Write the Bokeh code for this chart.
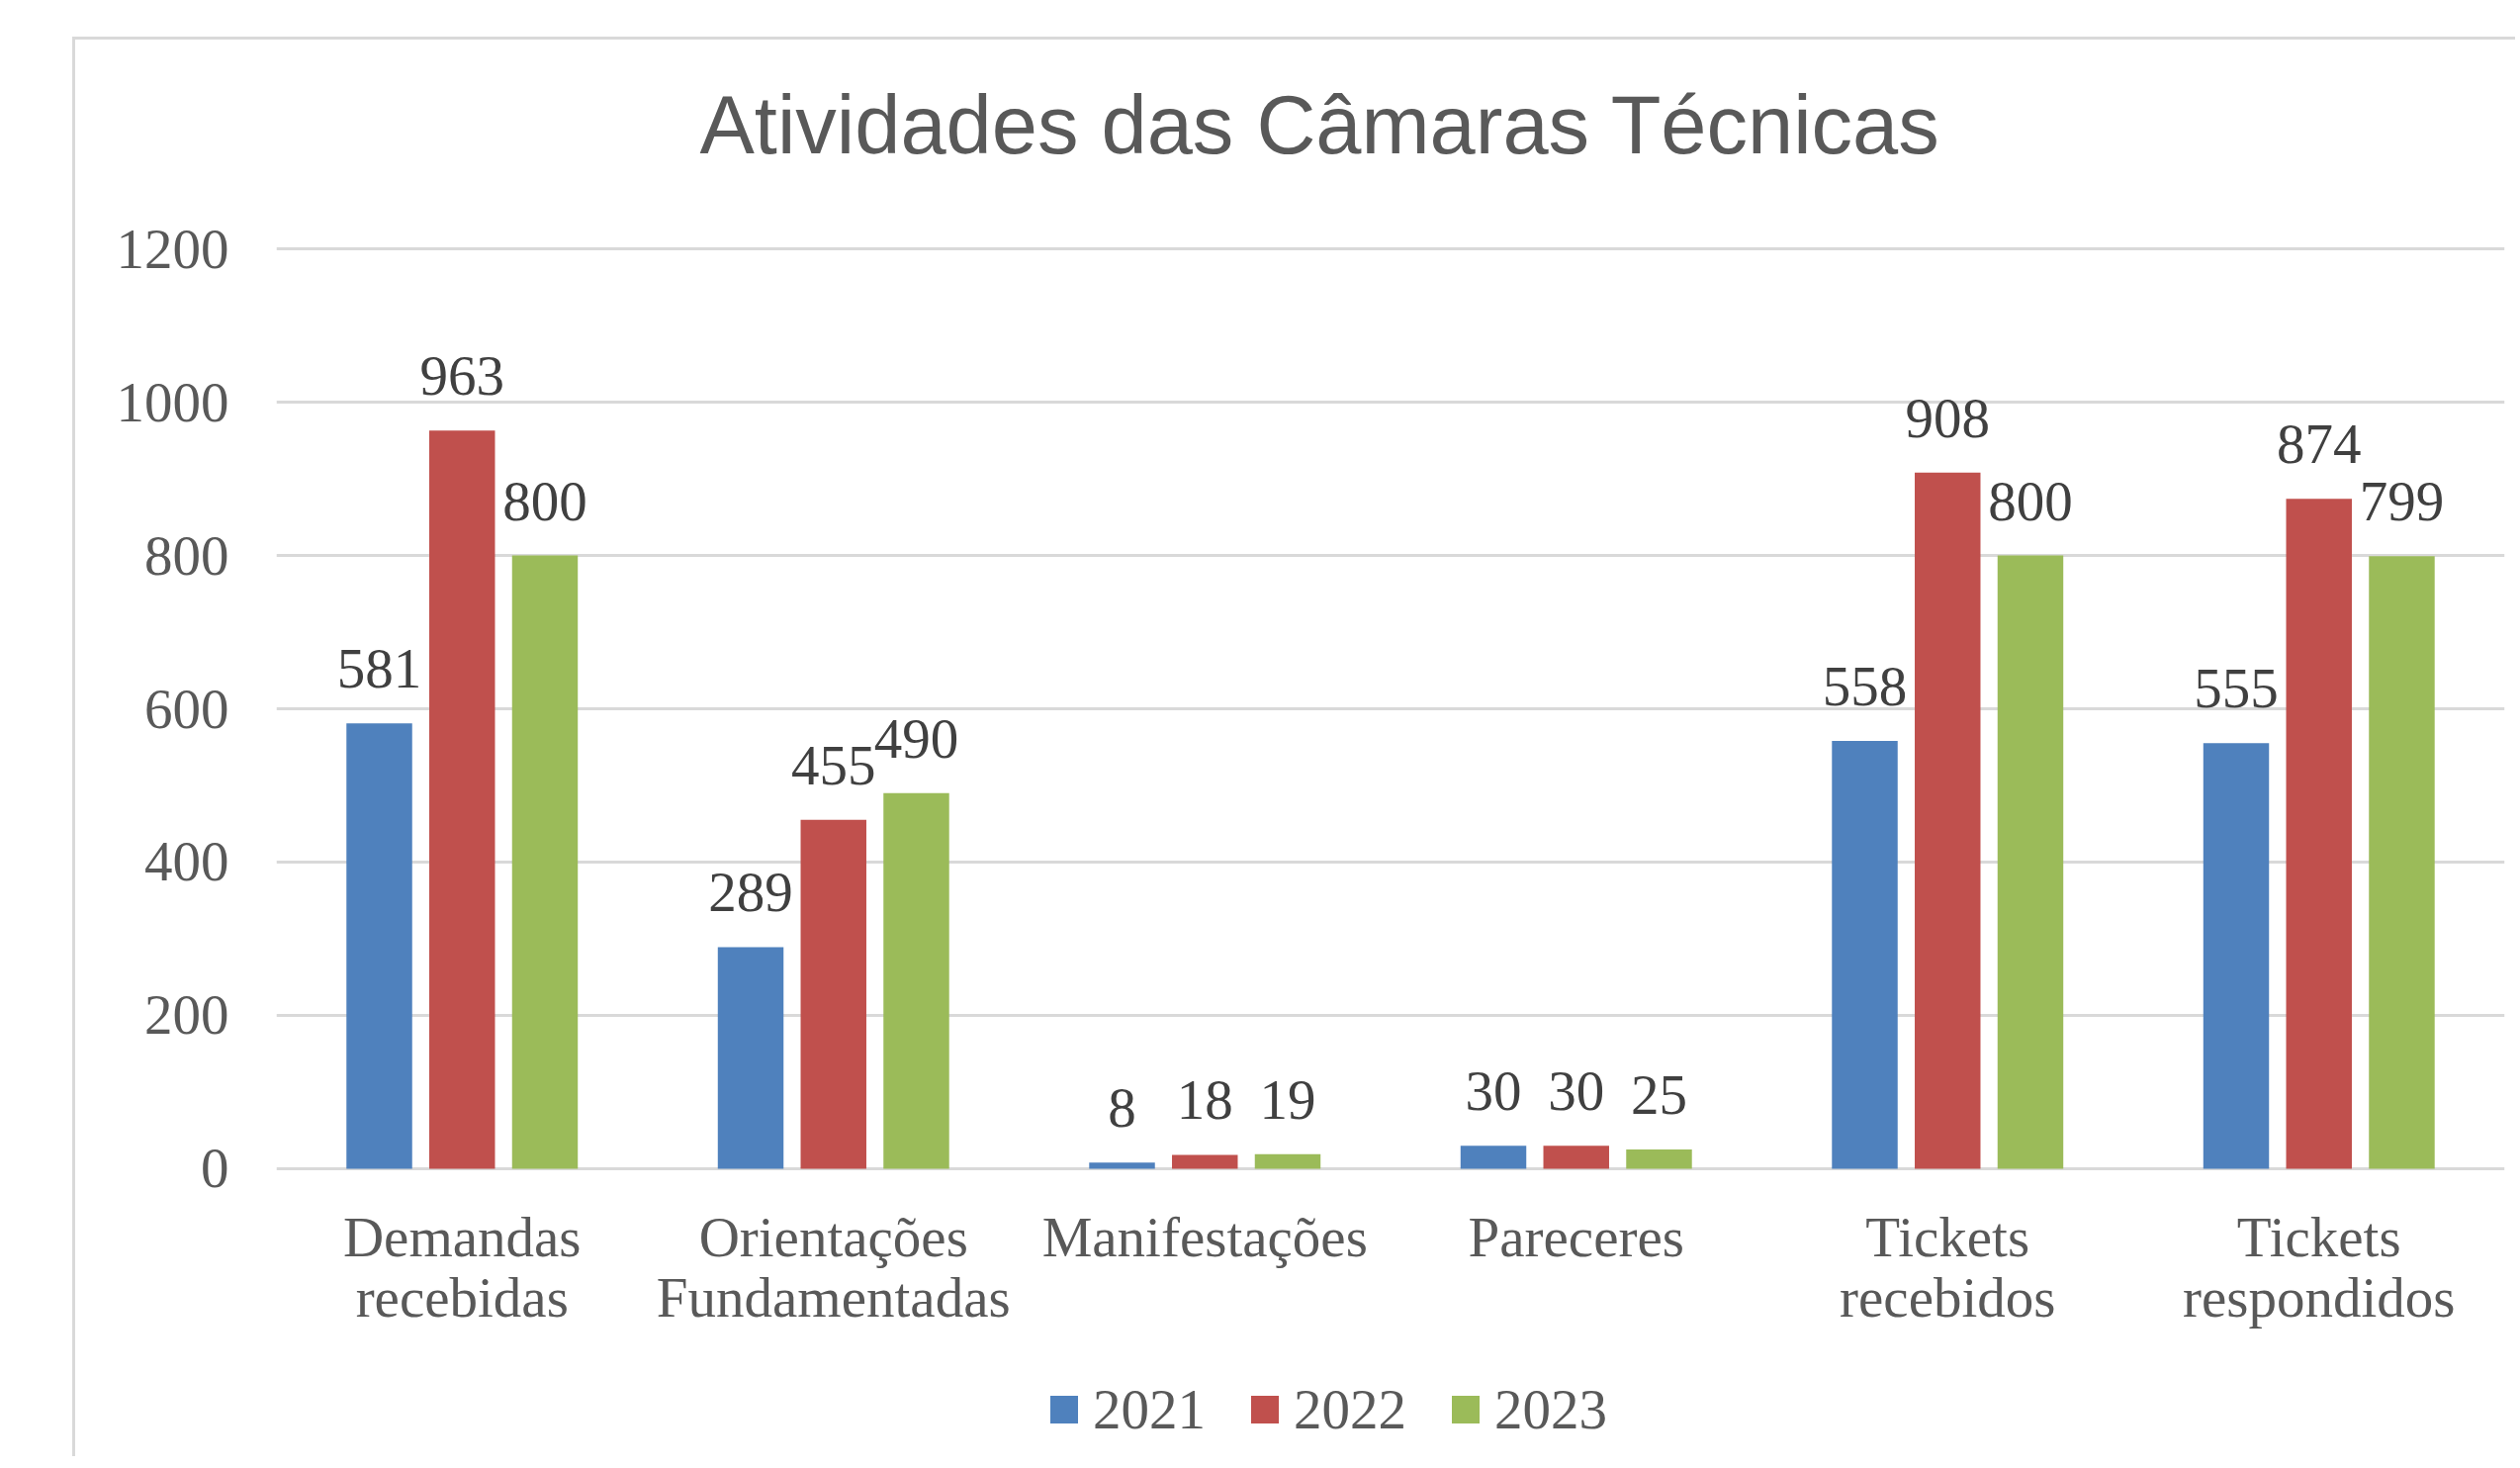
from bokeh.plotting import figure
from bokeh.models import ColumnDataSource, FactorRange, Range1d, Legend, LegendItem, FixedTicker
from bokeh.layouts import column
from bokeh.transform import dodge
from bokeh.core.properties import value
from bokeh.embed import file_html
from bokeh.resources import INLINE

# ---- data ----
categories = ["Demandas\nrecebidas", "Orientações\nFundamentadas", "Manifestações",
              "Pareceres", "Tickets\nrecebidos", "Tickets\nrespondidos"]
years = ["2021", "2022", "2023"]
v2021 = [581, 289, 8, 30, 558, 555]
v2022 = [963, 455, 18, 30, 908, 874]
v2023 = [800, 490, 19, 25, 800, 799]
y_ticks = [0, 200, 400, 600, 800, 1000, 1200]
title_text = "Atividades das Câmaras Técnicas"

colors = ["#4F81BD", "#C0504D", "#9BBB59"]
offsets = [-0.223, 0.0, 0.223]
series = [v2021, v2022, v2023]

data = dict(cat=categories)
for yr, vals in zip(years, series):
    data["v" + yr] = vals
    data["t" + yr] = [str(v) for v in vals]
src = ColumnDataSource(data)

SERIF = "Liberation Serif"
FS = "57px"
W = 2467

# ---- header (title) ----
head = figure(width=W, height=172, output_backend="svg", toolbar_location=None,
              x_range=Range1d(0, 1), y_range=Range1d(0, 1),
              x_axis_type=None, y_axis_type=None, min_border=0)
head.outline_line_color = None
head.grid.visible = False
head.title.text = title_text
head.title.text_font = "Liberation Sans"
head.title.text_font_size = "83px"
head.title.text_font_style = "normal"
head.title.text_color = "#595959"
head.title.align = "left"
head.title.offset = 428
head.title.standoff = 74

# ---- main chart ----
p = figure(x_range=FactorRange(*categories), y_range=Range1d(-4, 1204),
           width=W, height=1142, output_backend="svg", toolbar_location=None,
           min_border_left=203, min_border_right=11, min_border_top=36, min_border_bottom=170)

renderers = []
for yr, off, col in zip(years, offsets, colors):
    r = p.vbar(x=dodge("cat", off, range=p.x_range), top="v" + yr, width=0.177,
               source=src, fill_color=col, line_color=None)
    renderers.append(r)
    p.text(x=dodge("cat", off, range=p.x_range), y="v" + yr, text="t" + yr, source=src,
           text_align="center", text_baseline="middle", y_offset=-55,
           text_font=value(SERIF), text_font_size=FS, text_color="#404040")

p.outline_line_color = None
p.xgrid.grid_line_color = None
p.ygrid.ticker = FixedTicker(ticks=y_ticks)
p.ygrid.grid_line_color = "#D9D9D9"
p.ygrid.grid_line_width = 3

p.yaxis.ticker = FixedTicker(ticks=y_ticks)
p.yaxis.axis_line_color = None
p.yaxis.major_tick_line_color = None
p.yaxis.minor_tick_line_color = None
p.yaxis.major_label_text_font = SERIF
p.yaxis.major_label_text_font_size = FS
p.yaxis.major_label_text_color = "#595959"
p.yaxis.major_label_standoff = 42

p.xaxis.axis_line_color = None
p.xaxis.major_tick_line_color = None
p.xaxis.minor_tick_line_color = None
p.xaxis.major_label_text_font = SERIF
p.xaxis.major_label_text_font_size = FS
p.xaxis.major_label_text_color = "#595959"
p.xaxis.major_label_text_line_height = 0.97
p.xaxis.major_label_standoff = 28

# ---- legend strip ----
leg = figure(width=W, height=118, output_backend="svg", toolbar_location=None,
             x_range=Range1d(0, 1), y_range=Range1d(0, 1),
             x_axis_type=None, y_axis_type=None, min_border=0)
leg.outline_line_color = None
leg.grid.visible = False
# zero-size proxy bars: they only give the legend its coloured swatches
leg_renderers = [leg.vbar(x=[0], top=[0], width=0, fill_color=c, line_color=None) for c in colors]
legend = Legend(items=[LegendItem(label=yr, renderers=[r]) for yr, r in zip(years, leg_renderers)],
                orientation="horizontal", location=(779, 15))
legend.glyph_width = 35
legend.glyph_height = 35
legend.label_standoff = 12
legend.spacing = 42
legend.padding = 0
legend.margin = 0
legend.border_line_color = None
legend.background_fill_alpha = 0
legend.label_text_font = SERIF
legend.label_text_font_size = FS
legend.label_text_color = "#595959"
leg.add_layout(legend, "center")

layout = column(head, p, leg, spacing=0)
layout.margin = (37, 0, 0, 73)
layout.styles = {"border-left": "3px solid #D9D9D9", "border-top": "3px solid #D9D9D9"}

open("out.html", "w").write(file_html(layout, INLINE))
